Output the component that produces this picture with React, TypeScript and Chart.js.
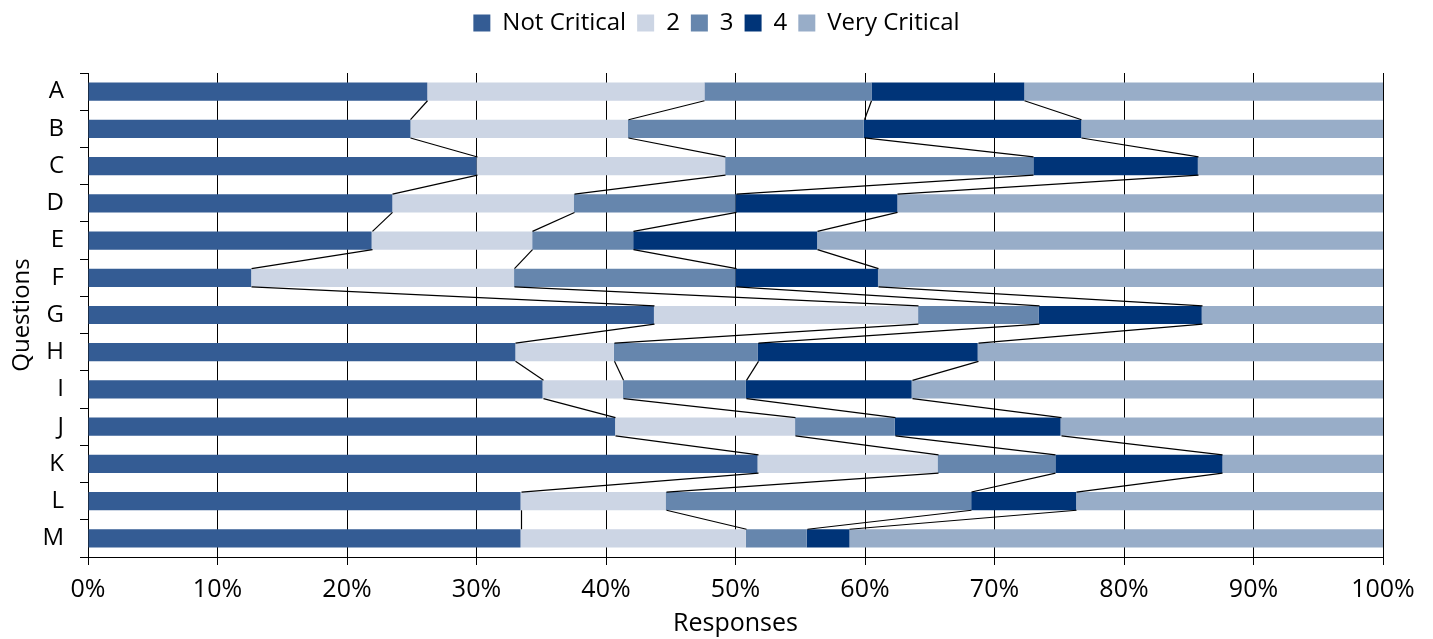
import React, { useEffect, useRef } from 'react';
import { Chart, registerables } from 'chart.js';

Chart.register(...registerables);

const categories = ['A', 'B', 'C', 'D', 'E', 'F', 'G', 'H', 'I', 'J', 'K', 'L', 'M'];
const seriesNames = ['Not Critical', '2', '3', '4', 'Very Critical'];

const notCritical = [26.2, 24.9, 30.0, 23.5, 21.9, 12.6, 43.7, 33.0, 35.1, 40.7, 51.7, 33.4, 33.4];
const level2 = [21.4, 16.8, 19.2, 14.0, 12.4, 20.3, 20.4, 7.6, 6.2, 13.9, 13.9, 11.2, 17.4];
const level3 = [12.9, 18.2, 23.8, 12.5, 7.8, 17.1, 9.3, 11.1, 9.5, 7.7, 9.1, 23.6, 4.7];
const level4 = [11.8, 16.8, 12.7, 12.5, 14.2, 11.0, 12.6, 17.0, 12.8, 12.8, 12.9, 8.1, 3.3];
const veryCritical = [27.7, 23.3, 14.3, 37.5, 43.7, 39.0, 14.0, 31.3, 36.4, 24.9, 12.4, 23.7, 41.2];

const seriesValues = [notCritical, level2, level3, level4, veryCritical];
const seriesColors = ['#345c94', '#ccd5e4', '#6686ad', '#003478', '#98adc8'];

const FONT = "'Open Sans', 'Noto Sans', sans-serif";

const seriesLinesPlugin = {
  id: 'seriesLines',
  afterDatasetsDraw(chart: any) {
    const ctx = chart.ctx;
    ctx.save();
    ctx.strokeStyle = '#000';
    ctx.lineWidth = 1.2;
    const n = chart.data.datasets.length;
    for (let d = 0; d < n - 1; d++) {
      const meta = chart.getDatasetMeta(d);
      for (let i = 0; i < meta.data.length - 1; i++) {
        const a = meta.data[i].getProps(['x', 'y', 'height'], true);
        const b = meta.data[i + 1].getProps(['x', 'y', 'height'], true);
        ctx.beginPath();
        ctx.moveTo(Math.round(a.x) + 0.5, a.y + a.height / 2);
        ctx.lineTo(Math.round(b.x) + 0.5, b.y - b.height / 2);
        ctx.stroke();
      }
    }
    ctx.restore();
  },
};

const legendSpacerPlugin = {
  id: 'legendSpacer',
  beforeLayout(chart: any) {
    const lg = chart.legend;
    if (lg && !lg.__spaced) {
      const fit = lg.fit;
      lg.fit = function () {
        fit.call(this);
        this.height = 73;
      };
      lg.__spaced = true;
    }
  },
  afterLayout(chart: any) {
    const lg = chart.legend;
    if (lg) {
      lg.left = 0;
      lg.right = chart.width;
      lg.width = chart.width;
    }
  },
};

export default function App() {
  const canvasRef = useRef<HTMLCanvasElement | null>(null);

  useEffect(() => {
    document.body.style.margin = '0';
    const canvas = canvasRef.current;
    if (!canvas) return;
    const chart = new Chart(canvas, {
      type: 'bar',
      data: {
        labels: categories,
        datasets: seriesNames.map((name, i) => ({
          label: name,
          data: seriesValues[i],
          backgroundColor: seriesColors[i],
          borderWidth: 0,
          barPercentage: 0.49,
          categoryPercentage: 1,
        })),
      },
      options: {
        indexAxis: 'y',
        responsive: false,
        animation: false,
        layout: { padding: { top: 0, right: 50, bottom: 0, left: 0 } },
        plugins: {
          legend: {
            position: 'top',
            labels: {
              boxWidth: 17,
              boxHeight: 17,
              padding: 11,
              color: '#000',
              font: { family: FONT, size: 24 },
            },
          },
          tooltip: { enabled: false },
        },
        scales: {
          x: {
            stacked: true,
            min: 0,
            max: 100,
            afterFit: (s: any) => {
              s.height = 82;
            },
            ticks: {
              stepSize: 10,
              padding: 10,
              color: '#000',
              font: { family: FONT, size: 25 },
              callback: (v: any) => v + '%',
            },
            grid: { color: '#000', lineWidth: 1, tickLength: 8, drawTicks: true },
            border: { color: '#000', width: 1 },
            title: {
              display: true,
              text: 'Responses',
              color: '#000',
              font: { family: FONT, size: 25 },
              padding: { top: 0, bottom: 0 },
            },
          },
          y: {
            stacked: true,
            afterFit: (s: any) => {
              s.width = 88;
            },
            ticks: {
              padding: 16,
              color: '#000',
              font: { family: FONT, size: 24 },
            },
            grid: {
              display: true,
              drawOnChartArea: false,
              drawTicks: true,
              tickLength: 8,
              color: '#000',
              offset: true,
            },
            border: { color: '#000', width: 1 },
            title: {
              display: true,
              text: 'Questions',
              color: '#000',
              font: { family: FONT, size: 24 },
              padding: { top: 8, bottom: 0 },
            },
          },
        },
      },
      plugins: [seriesLinesPlugin, legendSpacerPlugin],
    } as any);
    return () => {
      chart.destroy();
    };
  }, []);

  return (
    <div style={{ width: 1433, height: 639 }}>
      <canvas ref={canvasRef} width={1433} height={639} style={{ display: 'block' }} />
    </div>
  );
}
